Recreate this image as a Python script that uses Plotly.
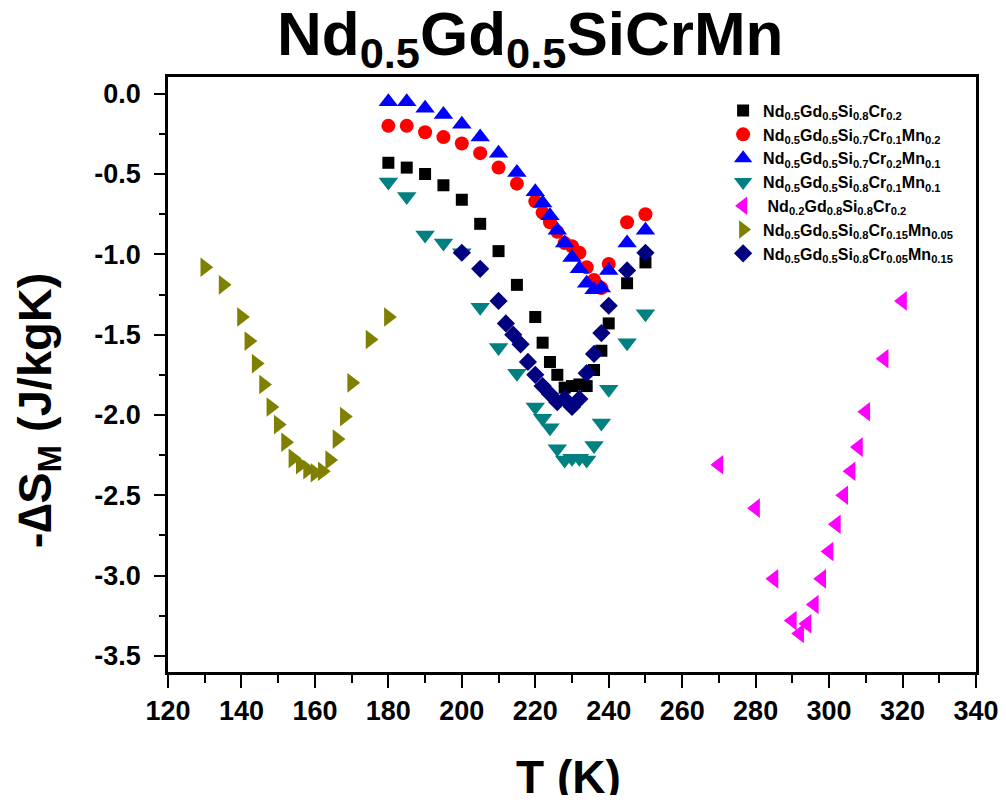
import plotly.graph_objects as go

# ---- data ----
black_T = [180,185,190,195,200,205,210,215,220,222,224,226,228,230,232,234,236,238,240,245,250]
black_S = [-0.43,-0.46,-0.50,-0.57,-0.66,-0.81,-0.98,-1.19,-1.39,-1.55,-1.67,-1.75,-1.83,-1.82,-1.81,-1.82,-1.72,-1.60,-1.43,-1.18,-1.05]

red_T = [180,185,190,195,200,205,210,215,220,222,224,226,228,230,232,234,236,238,240,245,250]
red_S = [-0.20,-0.20,-0.24,-0.27,-0.31,-0.37,-0.46,-0.56,-0.67,-0.74,-0.80,-0.86,-0.93,-0.95,-0.99,-1.08,-1.16,-1.21,-1.06,-0.80,-0.75]

blue_T = [180,185,190,195,200,205,210,215,220,222,224,226,228,230,232,234,236,238,240,245,250]
blue_S = [-0.05,-0.05,-0.09,-0.13,-0.19,-0.27,-0.37,-0.49,-0.61,-0.68,-0.76,-0.85,-0.93,-1.02,-1.09,-1.18,-1.22,-1.21,-1.10,-0.93,-0.85]

teal_T = [180,185,190,195,200,205,210,215,220,222,224,226,228,230,232,234,236,238,240,245,250]
teal_S = [-0.55,-0.64,-0.88,-0.93,-0.99,-1.33,-1.58,-1.74,-1.95,-2.02,-2.08,-2.21,-2.28,-2.27,-2.27,-2.28,-2.19,-2.05,-1.84,-1.55,-1.37]

magenta_T = [270,280,285,290,292,294,296,298,300,302,304,306,308,310,315,320]
magenta_S = [-2.31,-2.58,-3.02,-3.28,-3.36,-3.30,-3.18,-3.02,-2.85,-2.68,-2.50,-2.35,-2.20,-1.98,-1.65,-1.29]

olive_T = [130,135,140,142,144,146,148,150,152,154,156,158,160,162,164,166,168,170,175,180]
olive_S = [-1.08,-1.19,-1.39,-1.54,-1.68,-1.81,-1.95,-2.06,-2.17,-2.27,-2.31,-2.34,-2.36,-2.35,-2.28,-2.15,-2.01,-1.80,-1.53,-1.39]

navy_T = [200,205,210,212,214,216,218,220,222,224,226,228,230,232,234,236,238,240,245,250]
navy_S = [-0.99,-1.09,-1.29,-1.43,-1.50,-1.56,-1.67,-1.75,-1.82,-1.87,-1.92,-1.90,-1.95,-1.90,-1.74,-1.62,-1.49,-1.32,-1.10,-0.99]

names = [
    "Nd<sub>0.5</sub>Gd<sub>0.5</sub>Si<sub>0.8</sub>Cr<sub>0.2</sub>",
    "Nd<sub>0.5</sub>Gd<sub>0.5</sub>Si<sub>0.7</sub>Cr<sub>0.1</sub>Mn<sub>0.2</sub>",
    "Nd<sub>0.5</sub>Gd<sub>0.5</sub>Si<sub>0.7</sub>Cr<sub>0.2</sub>Mn<sub>0.1</sub>",
    "Nd<sub>0.5</sub>Gd<sub>0.5</sub>Si<sub>0.8</sub>Cr<sub>0.1</sub>Mn<sub>0.1</sub>",
    " Nd<sub>0.2</sub>Gd<sub>0.8</sub>Si<sub>0.8</sub>Cr<sub>0.2</sub>",
    "Nd<sub>0.5</sub>Gd<sub>0.5</sub>Si<sub>0.8</sub>Cr<sub>0.15</sub>Mn<sub>0.05</sub>",
    "Nd<sub>0.5</sub>Gd<sub>0.5</sub>Si<sub>0.8</sub>Cr<sub>0.05</sub>Mn<sub>0.15</sub>",
]

y_tickvals = [0.0, -0.5, -1.0, -1.5, -2.0, -2.5, -3.0, -3.5]
y_ticktext = ["0.0", "-0.5", "-1.0", "-1.5", "-2.0", "-2.5", "-3.0", "-3.5"]
x_tickvals = [120,140,160,180,200,220,240,260,280,300,320,340]
x_ticktext = [str(v) for v in x_tickvals]

series = [
    (black_T, black_S, "square", "#000000", 12),
    (red_T, red_S, "circle", "#FF0000", 14),
    (blue_T, blue_S, "triangle-up", "#0000FF", 17),
    (teal_T, teal_S, "triangle-down", "#008080", 17),
    (magenta_T, magenta_S, "triangle-left", "#FF00FF", 17),
    (olive_T, olive_S, "triangle-right", "#808000", 17),
    (navy_T, navy_S, "diamond", "#000080", 14),
]

FONT = "Liberation Sans, Arial, sans-serif"

fig = go.Figure()
for (t, s, sym, col, sz), nm in zip(series, names):
    fig.add_trace(go.Scatter(
        x=t, y=s, mode="markers", name=nm,
        marker=dict(symbol=sym, color=col, size=sz, line=dict(width=0)),
    ))

axis_common = dict(
    showgrid=False, zeroline=False, showline=True, linecolor="black", linewidth=2.5,
    mirror=True, ticks="outside", tickwidth=2, tickcolor="black", automargin=False,
    ticklabeloverflow="allow",
    tickfont=dict(family=FONT, size=27, color="black", weight="bold"),
)
fig.update_xaxes(range=[120, 340], tickvals=x_tickvals, ticktext=x_ticktext, ticklen=13,
                 ticklabelstandoff=0,
                 minor=dict(ticks="outside", dtick=10, tick0=120, ticklen=8, tickwidth=2, tickcolor="black"),
                 **axis_common)
fig.update_yaxes(range=[-3.6, 0.104], tickvals=y_tickvals, ticktext=y_ticktext, ticklen=11,
                 ticklabelstandoff=8,
                 minor=dict(ticks="outside", tickvals=[-0.25,-0.75,-1.25,-1.75,-2.25,-2.75,-3.25],
                            ticklen=6, tickwidth=2, tickcolor="black"),
                 **axis_common)

fig.update_layout(
    width=996, height=787,
    margin=dict(l=160, r=28, t=69, b=123),
    paper_bgcolor="white", plot_bgcolor="white",
    font=dict(family=FONT, color="black"),
    showlegend=True,
    legend=dict(x=0.687, y=0.972, xanchor="left", yanchor="top",
                bgcolor="rgba(0,0,0,0)", borderwidth=0,
                font=dict(family=FONT, size=16, color="black", weight="bold"),
                itemsizing="trace"),
    annotations=[
        dict(text="Nd<sub>0.5</sub>Gd<sub>0.5</sub>SiCrMn", xref="paper", yref="paper",
             x=(530 - 168) / 808, y=1.0, xanchor="center", yanchor="bottom", yshift=-2,
             showarrow=False, font=dict(family=FONT, size=62, color="black", weight="bold")),
        dict(text="T (K)", xref="paper", yref="paper",
             x=(568 - 168) / 808, y=0, xanchor="center", yanchor="middle", yshift=-105,
             showarrow=False, font=dict(family=FONT, size=46, color="black", weight="bold")),
        dict(text="-∆S<sub>M</sub> (J/kgK)", xref="paper", yref="paper",
             x=0, y=(673 - 411) / 595.4, xanchor="center", yanchor="middle", xshift=-130,
             textangle=-90,
             showarrow=False, font=dict(family=FONT, size=47, color="black", weight="bold")),
    ],
)

fig.write_html("out.html")
